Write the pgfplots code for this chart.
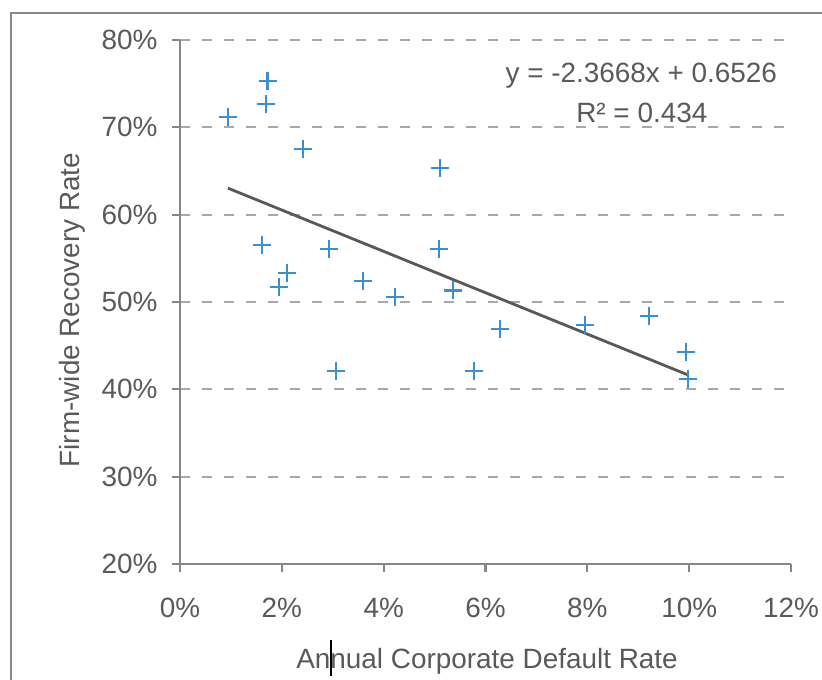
\documentclass[border=0pt]{standalone}
\usepackage{fontspec}
\setmainfont{Liberation Sans}
\usepackage{pgfplots}
\pgfplotsset{compat=1.18}

\definecolor{txtgray}{RGB}{89,89,89}
\definecolor{axgray}{RGB}{134,134,134}
\definecolor{gridgray}{RGB}{168,168,168}
\definecolor{ptblue}{RGB}{58,143,204}
\definecolor{trendgray}{RGB}{88,88,88}
\newcommand{\fsz}{\fontsize{28}{33}\selectfont}

\begin{document}
\begin{tikzpicture}
\useasboundingbox (0,0) rectangle (822bp,680bp);
% chart area border
\draw[axgray, line width=2.2bp] (11bp,0) -- (11bp,667bp) -- (822bp,667bp);

\begin{axis}[
  at={(180bp,116bp)}, anchor=south west,
  scale only axis, width=611bp, height=524bp,
  xmin=0, xmax=12, ymin=20, ymax=80,
  axis x line=bottom, axis y line=left,
  axis line style={-, axgray, line width=2.2bp},
  xtick={0,2,4,6,8,10,12},
  xticklabels={0\%,2\%,4\%,6\%,8\%,10\%,12\%},
  ytick={20,30,40,50,60,70,80},
  yticklabels={20\%,30\%,40\%,50\%,60\%,70\%,80\%},
  tick align=outside,
  major tick length=8bp,
  tick style={axgray, line width=2.2bp},
  tick label style={font=\fsz, text=txtgray},
  xticklabel style={anchor=base, yshift=-45bp},
  yticklabel style={anchor=east, xshift=-11bp},
  ymajorgrids,
  major grid style={gridgray, line width=2.3bp, dash pattern=on 10bp off 12bp},
  xlabel={Annual Corporate Default Rate},
  ylabel={Firm-wide Recovery Rate},
  label style={font=\fsz, text=txtgray},
  xlabel style={at={(axis description cs:0.5025,-0.1985)}, anchor=base},
  ylabel style={at={(axis description cs:-0.1653,0.4847)}, anchor=base},
  clip=false,
]
% observations
\addplot[only marks, mark=+, mark size=9bp, ptblue, mark options={line width=2.2bp}]
coordinates {
  (0.94,71.15) (1.72,75.31) (1.69,72.71) (2.41,67.48) (5.10,65.31)
  (1.61,56.53) (2.93,56.10) (5.09,56.05) (2.10,53.29) (1.94,51.68)
  (3.60,52.37) (4.23,50.61) (5.36,51.32) (6.29,46.91) (3.07,42.13)
  (5.77,42.13) (7.95,47.37) (9.21,48.43) (9.93,44.31) (9.98,41.22)
};
% linear trend y = -2.3668x + 0.6526 over the data range
\addplot[trendgray, line width=2.8bp] coordinates {(0.94,63.04) (9.98,41.64)};

\node[font=\fsz, text=txtgray, anchor=base] at (axis cs:9.06,75.08) {y = -2.3668x + 0.6526};
\node[font=\fsz, text=txtgray, anchor=base] at (axis cs:9.07,70.61) {R² = 0.434};
\end{axis}
\draw[black, line width=1.6bp] (331bp,4bp) -- (331bp,40bp);
\end{tikzpicture}
\end{document}
